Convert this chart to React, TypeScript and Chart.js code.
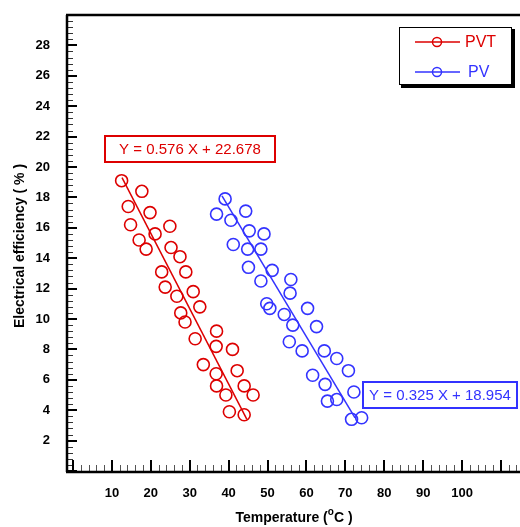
import React, { useEffect, useRef } from "react";
import { Chart, registerables } from "chart.js";

Chart.register(...registerables);

// PVT measurements (temperature °C, efficiency %)
const pvtTemp = [12.5, 17.7, 14.2, 19.8, 14.8, 24.9, 21.1, 17.0, 18.8, 25.2, 27.5, 22.8, 29.0, 23.7, 26.7, 30.9, 32.6, 27.7, 28.8, 31.4, 36.9, 36.8, 41.0, 33.5, 36.8, 42.2, 36.9, 39.3, 44.0, 46.3, 40.2, 44.0];
const pvtEff = [19.1, 18.4, 17.4, 17.0, 16.2, 16.1, 15.6, 15.2, 14.6, 14.7, 14.1, 13.1, 13.1, 12.1, 11.5, 11.8, 10.8, 10.4, 9.8, 8.7, 9.2, 8.2, 8.0, 7.0, 6.4, 6.6, 5.6, 5.0, 5.6, 5.0, 3.9, 3.7];

// PV measurements
const pvTemp = [39.1, 36.9, 44.4, 40.6, 45.3, 49.1, 41.2, 44.9, 48.3, 45.1, 51.2, 48.3, 56.0, 55.8, 49.8, 50.6, 54.3, 60.3, 56.5, 62.6, 55.6, 58.9, 64.6, 67.8, 70.8, 61.6, 64.8, 72.2, 65.4, 67.8, 71.6, 74.2];
const pvEff = [17.9, 16.9, 17.1, 16.5, 15.8, 15.6, 14.9, 14.6, 14.6, 13.4, 13.2, 12.5, 12.6, 11.7, 11.0, 10.7, 10.3, 10.7, 9.6, 9.5, 8.5, 7.9, 7.9, 7.4, 6.6, 6.3, 5.7, 5.2, 4.6, 4.7, 3.4, 3.5];

// Fitted lines (end points in data units)
const pvtFitTemp = [12.6, 44.7];
const pvtFitEff = [19.3, 3.4];
const pvFitTemp = [38.3, 72.5];
const pvFitEff = [18.1, 3.5];

const xTickLabels = [10, 20, 30, 40, 50, 60, 70, 80, 90, 100];
const yTickLabels = [2, 4, 6, 8, 10, 12, 14, 16, 18, 20, 22, 24, 26, 28];

const seriesNames = ["PVT", "PV"];
const equations = ["Y = 0.576 X + 22.678", "Y = 0.325 X + 18.954"];

const RED = "#dd0000";
const BLUE = "#3333ff";
const FONT = 'Arial, "Liberation Sans", sans-serif';

const zip = (xs: number[], ys: number[]) => xs.map((x, i) => ({ x, y: ys[i] }));

const decorPlugin = {
  id: "decor",
  afterDraw(chart: any) {
    const ctx = chart.ctx as CanvasRenderingContext2D;
    const { left, right, top, bottom } = chart.chartArea;
    const xs = chart.scales.x;
    const ys = chart.scales.y;
    ctx.save();

    // ticks on y axis (inward)
    for (let i = 0; i <= 75; i++) {
      const v = i * 0.4;
      const p = ys.getPixelForValue(v);
      if (p < top + 1) continue;
      const major = i % 5 === 0;
      ctx.beginPath();
      ctx.strokeStyle = major ? "#000" : "#333";
      ctx.lineWidth = major ? 2 : 1;
      ctx.moveTo(left, Math.round(p) + (major ? 0 : 0.5));
      ctx.lineTo(left + (major ? 10 : 6), Math.round(p) + (major ? 0 : 0.5));
      ctx.stroke();
    }
    // ticks on x axis (inward)
    for (let v = 0; v <= 114; v += 2) {
      const p = xs.getPixelForValue(v);
      if (p > right - 1) continue;
      const major = v % 10 === 0;
      ctx.beginPath();
      ctx.strokeStyle = major ? "#000" : "#555";
      ctx.lineWidth = major ? 2 : 1;
      ctx.moveTo(Math.round(p) + (major ? 0 : 0.5), bottom);
      ctx.lineTo(Math.round(p) + (major ? 0 : 0.5), bottom - (major ? 11 : 6));
      ctx.stroke();
    }

    // axis frame: left, top, bottom
    ctx.strokeStyle = "#000";
    ctx.lineWidth = 2.5;
    ctx.beginPath();
    ctx.moveTo(left, top);
    ctx.lineTo(left, bottom + 1);
    ctx.moveTo(left - 1, top);
    ctx.lineTo(right, top);
    ctx.moveTo(left - 1, bottom + 1);
    ctx.lineTo(right, bottom + 1);
    ctx.stroke();

    // axis titles
    ctx.fillStyle = "#000";
    ctx.font = `bold 14px ${FONT}`;
    ctx.textBaseline = "middle";
    ctx.save();
    ctx.translate(20, 246);
    ctx.rotate(-Math.PI / 2);
    ctx.textAlign = "center";
    ctx.fillText("Electrical efficiency ( % )", 0, 0);
    ctx.restore();

    const t1 = "Temperature (";
    const t2 = "o";
    const t3 = "C )";
    ctx.font = `bold 14px ${FONT}`;
    const w1 = ctx.measureText(t1).width;
    const w3 = ctx.measureText(t3).width;
    ctx.font = `bold 10px ${FONT}`;
    const w2 = ctx.measureText(t2).width;
    const total = w1 + w2 + w3;
    let tx = 294 - total / 2;
    ctx.textAlign = "left";
    ctx.font = `bold 14px ${FONT}`;
    ctx.fillText(t1, tx, 518);
    tx += w1;
    ctx.font = `bold 10px ${FONT}`;
    ctx.fillText(t2, tx, 512);
    tx += w2;
    ctx.font = `bold 14px ${FONT}`;
    ctx.fillText(t3, tx, 518);

    // legend box
    ctx.fillStyle = "#000";
    ctx.fillRect(401, 29, 114, 59);
    ctx.fillStyle = "#fff";
    ctx.fillRect(399, 27, 113, 58);
    ctx.strokeStyle = "#000";
    ctx.lineWidth = 1;
    ctx.strokeRect(399.5, 27.5, 112, 57);
    const legendColors = [RED, BLUE];
    const legendY = [42, 72];
    const legendTextX = [465, 468];
    seriesNames.forEach((name, i) => {
      const c = legendColors[i];
      const y = legendY[i];
      ctx.strokeStyle = c;
      ctx.lineWidth = 1.5;
      ctx.beginPath();
      ctx.moveTo(415, y);
      ctx.lineTo(460, y);
      ctx.stroke();
      ctx.beginPath();
      ctx.arc(437, y, 4.5, 0, Math.PI * 2);
      ctx.stroke();
      ctx.fillStyle = c;
      ctx.font = `16px ${FONT}`;
      ctx.textAlign = "left";
      ctx.textBaseline = "middle";
      ctx.fillText(name, legendTextX[i], y + 1);
    });

    // equation boxes
    const boxes = [
      { x: 105, y: 136, w: 170, h: 26, c: RED, tx: 190 },
      { x: 363, y: 382, w: 154, h: 26, c: BLUE, tx: 440 },
    ];
    boxes.forEach((b, i) => {
      ctx.fillStyle = "#fff";
      ctx.fillRect(b.x, b.y, b.w, b.h);
      ctx.strokeStyle = b.c;
      ctx.lineWidth = 2;
      ctx.strokeRect(b.x, b.y, b.w, b.h);
      ctx.fillStyle = b.c;
      ctx.font = `15px ${FONT}`;
      ctx.textAlign = "center";
      ctx.textBaseline = "middle";
      ctx.fillText(equations[i], b.tx, b.y + b.h / 2 + 1);
    });

    ctx.restore();
  },
};

export default function App() {
  const ref = useRef<HTMLCanvasElement | null>(null);

  useEffect(() => {
    if (!ref.current) return;
    const pointCommon = {
      showLine: false,
      pointRadius: 6,
      pointStyle: "circle",
      pointBorderWidth: 1.6,
      pointBackgroundColor: "rgba(0,0,0,0)",
    };
    const chart = new Chart(ref.current, {
      type: "scatter",
      data: {
        datasets: [
          {
            label: seriesNames[0] + " fit",
            data: zip(pvtFitTemp, pvtFitEff),
            showLine: true,
            borderColor: RED,
            borderWidth: 1.5,
            pointRadius: 0,
          } as any,
          {
            label: seriesNames[1] + " fit",
            data: zip(pvFitTemp, pvFitEff),
            showLine: true,
            borderColor: BLUE,
            borderWidth: 1.5,
            pointRadius: 0,
          } as any,
          {
            label: seriesNames[0],
            data: zip(pvtTemp, pvtEff),
            ...pointCommon,
            pointBorderColor: RED,
            borderColor: RED,
          } as any,
          {
            label: seriesNames[1],
            data: zip(pvTemp, pvEff),
            ...pointCommon,
            pointBorderColor: BLUE,
            borderColor: BLUE,
          } as any,
        ],
      },
      options: {
        animation: false,
        responsive: false,
        maintainAspectRatio: false,
        layout: { autoPadding: false, padding: { top: 15, right: 0, left: 0, bottom: 0 } },
        plugins: { legend: { display: false }, tooltip: { enabled: false } },
        scales: {
          x: {
            type: "linear",
            min: -1.54,
            max: 114.9,
            grid: { display: false, drawTicks: false },
            border: { display: false },
            afterBuildTicks: (s: any) => {
              s.ticks = xTickLabels.map((v) => ({ value: v }));
            },
            afterFit: (s: any) => {
              s.height = 56;
              s.paddingLeft = 0;
              s.paddingRight = 0;
            },
            ticks: {
              autoSkip: false,
              maxRotation: 0,
              padding: 15,
              color: "#000",
              font: { family: FONT, size: 13, weight: "bold" },
            },
          },
          y: {
            type: "linear",
            min: 0,
            max: 30,
            grid: { display: false, drawTicks: false },
            border: { display: false },
            afterBuildTicks: (s: any) => {
              s.ticks = yTickLabels.map((v) => ({ value: v }));
            },
            afterFit: (s: any) => {
              s.width = 67;
              s.paddingTop = 0;
              s.paddingBottom = 0;
            },
            ticks: {
              autoSkip: false,
              padding: 17,
              color: "#000",
              font: { family: FONT, size: 13, weight: "bold" },
            },
          },
        },
      } as any,
      plugins: [decorPlugin],
    });
    return () => chart.destroy();
  }, []);

  return (
    <div style={{ position: "absolute", left: 0, top: 0, width: 520, height: 527, background: "#fff" }}>
      <canvas ref={ref} width={520} height={527} style={{ display: "block", width: 520, height: 527 }} />
    </div>
  );
}
